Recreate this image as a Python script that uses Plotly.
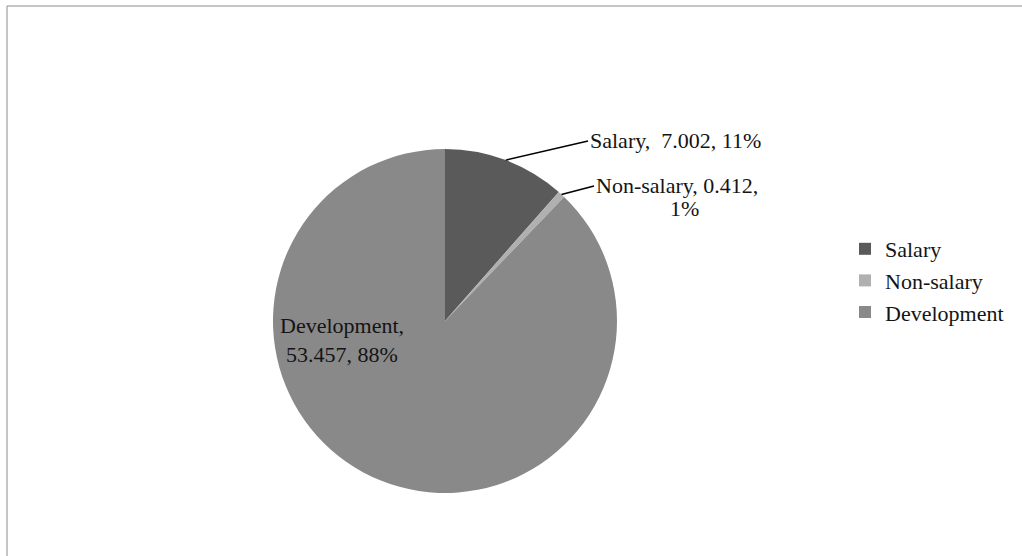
import math
import plotly.graph_objects as go

categories = ["Salary", "Non-salary", "Development"]
values = [7.002, 0.412, 53.457]
pct_labels = ["11%", "1%", "88%"]
colors = ["#5a5a5a", "#b0b0b0", "#898989"]

W, H = 1022, 556
cx, cy, r = 445, 321, 172
FONT = "Liberation Serif"
FS = 22
TXT = "#141414"

fig = go.Figure(go.Pie(
    labels=categories,
    values=values,
    textinfo="none",
    sort=False,
    direction="clockwise",
    rotation=0,
    marker=dict(colors=colors, line=dict(width=0)),
    hoverinfo="label+value",
    domain=dict(x=[(cx - r) / W, (cx + r) / W], y=[(H - cy - r) / H, (H - cy + r) / H]),
))

# mid-angle of each slice (clockwise from 12 o'clock), computed from the data
total = sum(values)
mids = []
acc = 0.0
for v in values:
    mids.append((acc + v / 2) / total * 2 * math.pi)
    acc += v


def edge(i):
    a = mids[i]
    return cx + r * math.sin(a), cy - r * math.cos(a)


def px(x, y):
    return x / W, 1 - y / H


annotations = []
# Salary label with leader line
tx, ty = edge(0)
ax_, ay_ = px(tx, ty)
annotations.append(dict(
    x=ax_, y=ay_, xref="paper", yref="paper",
    text=f"{categories[0]},  {values[0]:.3f}, {pct_labels[0]}",
    showarrow=True, arrowhead=0, arrowwidth=1.5, arrowcolor="#000000",
    ax=588 - tx, ay=141 - ty, xanchor="left", yanchor="middle",
    font=dict(family=FONT, size=FS, color=TXT),
))
# Non-salary label with leader line
tx, ty = edge(1)
ax_, ay_ = px(tx, ty)
annotations.append(dict(
    x=ax_, y=ay_, xref="paper", yref="paper",
    text=f"{categories[1]}, {values[1]:.3f},",
    showarrow=True, arrowhead=0, arrowwidth=1.5, arrowcolor="#000000",
    ax=594 - tx, ay=186 - ty, xanchor="left", yanchor="middle",
    font=dict(family=FONT, size=FS, color=TXT),
))
annotations.append(dict(
    x=px(684, 208)[0], y=px(684, 208)[1], xref="paper", yref="paper",
    text=pct_labels[1], showarrow=False, xanchor="center", yanchor="middle",
    font=dict(family=FONT, size=FS, color=TXT),
))
# Development label inside
annotations.append(dict(
    x=px(342, 340)[0], y=px(342, 340)[1], xref="paper", yref="paper",
    text=f"{categories[2]},<br>{values[2]:.3f}, {pct_labels[2]}",
    showarrow=False, xanchor="center", yanchor="middle", align="center",
    font=dict(family=FONT, size=FS, color=TXT),
))

fig.update_layout(
    width=W, height=H,
    margin=dict(l=0, r=0, t=0, b=0),
    paper_bgcolor="white",
    font=dict(family=FONT, size=FS, color=TXT),
    legend=dict(x=845 / W, y=1 - 228 / H, xanchor="left", yanchor="top",
                font=dict(family=FONT, size=FS, color=TXT), itemwidth=30),
    annotations=annotations,
    shapes=[dict(type="rect", xref="paper", yref="paper",
                 x0=7 / W, x1=1.02, y0=-0.02, y1=1 - 6 / H,
                 line=dict(color="#8c8c8c", width=1))],
)

fig.write_html("out.html")
